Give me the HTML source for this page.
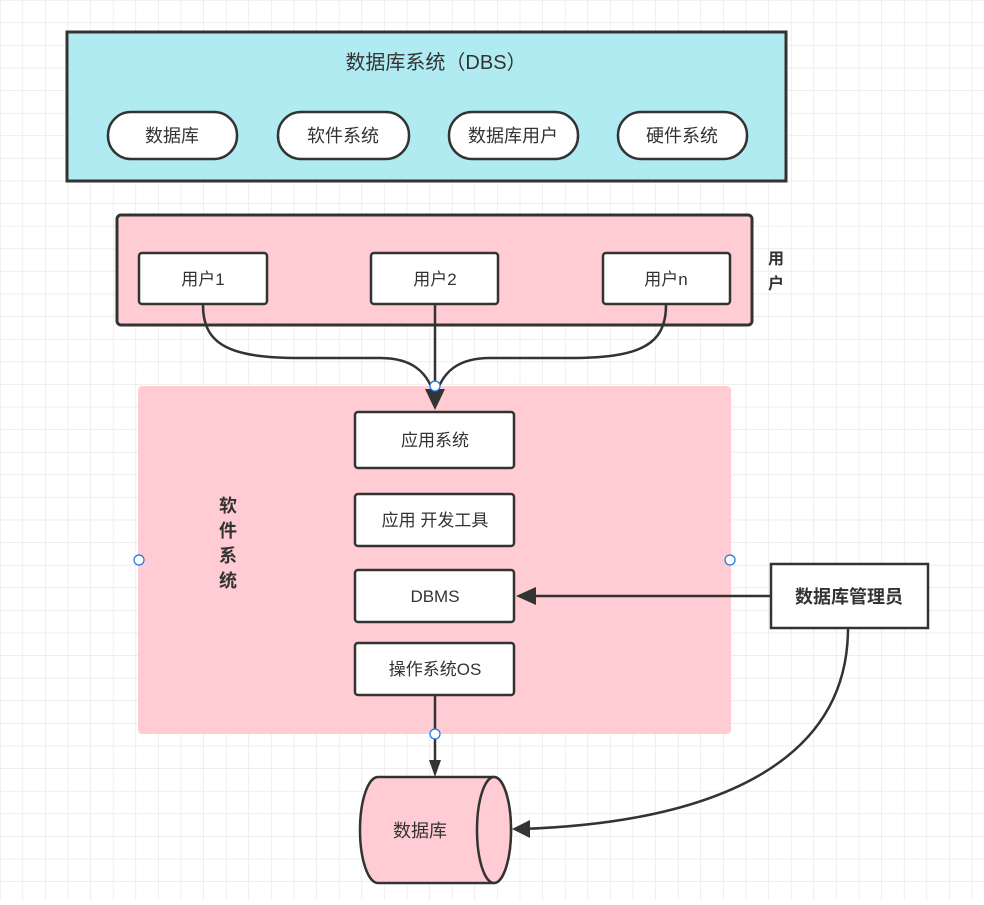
<!DOCTYPE html>
<html><head><meta charset="utf-8"><style>
html,body{margin:0;padding:0;background:#fff;}
body{width:984px;height:900px;overflow:hidden;}
svg text{font-family:"Liberation Sans","Noto Sans CJK SC",sans-serif;fill:#333;}
</style></head><body>
<svg width="984" height="900" viewBox="0 0 984 900" xmlns="http://www.w3.org/2000/svg">
<defs>
<pattern id="g" width="22.6" height="22.6" patternUnits="userSpaceOnUse" x="0.5" y="0.5">
<path d="M22.6 0V22.6M0 22.6H22.6" fill="none" stroke="#e4e4e4" stroke-width="1.2"/>
</pattern>
</defs>
<rect width="984" height="900" fill="url(#g)"/>

<!-- DBS -->
<rect x="67" y="32" width="719" height="149" fill="#b1ebf2" stroke="#333" stroke-width="3"/>
<text x="436" y="69" font-size="20" text-anchor="middle">数据库系统（DBS）</text>
<g stroke="#333" stroke-width="2.5" fill="#fff">
<rect x="108" y="112" width="129" height="47" rx="23"/>
<rect x="278" y="112" width="131" height="47" rx="23"/>
<rect x="449" y="112" width="129" height="47" rx="23"/>
<rect x="618" y="112" width="129" height="47" rx="23"/>
</g>
<g font-size="18" text-anchor="middle">
<text x="172" y="142">数据库</text>
<text x="343" y="142">软件系统</text>
<text x="513" y="142">数据库用户</text>
<text x="682" y="142">硬件系统</text>
</g>

<!-- users -->
<rect x="117" y="215" width="635" height="110" rx="4" fill="#ffccd3" stroke="#333" stroke-width="3"/>
<text x="776" y="264" font-size="16" font-weight="bold" text-anchor="middle">用</text>
<text x="776" y="289" font-size="16" font-weight="bold" text-anchor="middle">户</text>
<g stroke="#333" stroke-width="2.5" fill="#fff">
<rect x="139" y="253" width="128" height="51" rx="3"/>
<rect x="371" y="253" width="127" height="51" rx="3"/>
<rect x="603" y="253" width="127" height="51" rx="3"/>
</g>
<g font-size="17" text-anchor="middle">
<text x="203" y="285">用户1</text>
<text x="435" y="285">用户2</text>
<text x="666" y="285">用户n</text>
</g>

<!-- software -->
<rect x="138" y="386" width="593" height="348" rx="4" fill="#ffccd3"/>
<g font-size="18" font-weight="bold" text-anchor="middle">
<text x="228" y="512">软</text><text x="228" y="537">件</text><text x="228" y="562">系</text><text x="228" y="587">统</text>
</g>
<g stroke="#333" stroke-width="2.5" fill="#fff">
<rect x="355" y="412" width="159" height="56" rx="3"/>
<rect x="355" y="494" width="159" height="52" rx="3"/>
<rect x="355" y="570" width="159" height="52" rx="3"/>
<rect x="355" y="643" width="159" height="52" rx="3"/>
</g>
<g font-size="17" text-anchor="middle">
<text x="435" y="446">应用系统</text>
<text x="435" y="526">应用 开发工具</text>
<text x="435" y="602">DBMS</text>
<text x="435" y="675">操作系统OS</text>
</g>

<!-- DBA -->
<rect x="771" y="564" width="157" height="64" fill="#fff" stroke="#333" stroke-width="2.5"/>
<text x="849" y="603" font-size="18" font-weight="bold" text-anchor="middle">数据库管理员</text>

<!-- cylinder -->
<path d="M378 777H494A17 53 0 0 1 494 883H378A18 53 0 0 1 378 777Z" fill="#ffccd3" stroke="#333" stroke-width="2.5"/>
<ellipse cx="494" cy="830" rx="17" ry="53" fill="#ffccd3" stroke="#333" stroke-width="2.5"/>
<text x="420" y="837" font-size="18" text-anchor="middle">数据库</text>

<!-- connectors -->
<g fill="none" stroke="#333" stroke-width="2.5">
<path d="M203 305C203 345 230 358 300 358H380C410 358 428 370 435 398"/>
<path d="M666 305C666 345 640 358 570 358H490C460 358 442 370 435 398"/>
<path d="M435 305V398"/>
<path d="M771 596H524"/>
<path d="M435 695V766"/>
<path d="M848 628C848 760 720 822 522 829"/>
</g>
<g fill="#333">
<path d="M425 389L445 389L435 410Z"/>
<path d="M516 596L536 587L536 605Z"/>
<path d="M429 760L441 760L435 777Z"/>
<path d="M512 829L530 820L530 838Z"/>
</g>
<g fill="#fff" stroke="#1a73e8" stroke-width="1.2">
<circle cx="435" cy="386" r="5"/>
<circle cx="139" cy="560" r="5"/>
<circle cx="730" cy="560" r="5"/>
<circle cx="435" cy="734" r="5"/>
</g>
</svg>
</body></html>
